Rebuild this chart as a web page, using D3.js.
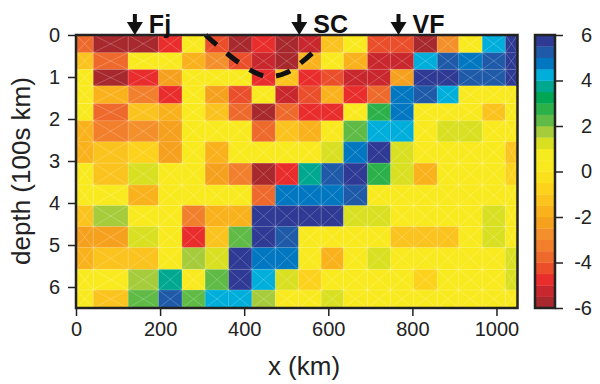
<!DOCTYPE html>
<html><head><meta charset="utf-8">
<script src="https://cdn.jsdelivr.net/npm/d3@7"></script>
<style>
html,body{margin:0;padding:0;background:#fff;}
svg{display:block;font-family:"Liberation Sans",Arial,Helvetica,sans-serif;}
</style></head>
<body><svg id="chart" width="600" height="384"></svg>
<script>
// ---- data ----
const xEdges = [0, 41, 124, 196, 252, 307, 363, 418, 474, 529, 583, 636, 693, 748, 803, 859, 910, 966, 1021, 1050]; // km
const depthEdges = [0, 0.42, 0.82, 1.21, 1.63, 2.04, 2.54, 3.05, 3.57, 4.06, 4.56, 5.06, 5.58, 6.07, 6.5]; // 100s km
const cellValues = [
  [-3.7,-5.7,-5.6,-4.8, 0.3,-4.2,-5.6,-4.7,-5.6,-5.3,-1.2, 0.3,-4.2,-4.2,-5.6,-2.8, 0.3, 4.2, 5.7],
  [-1.2,-3.6, 0.3, 0.3,-1.7,-2.7,-4.2,-5.2,-5.6,-1.7, 0.3,-1.7,-5.3,-5.3, 4.2, 5.2, 4.7, 5.2, 5.7],
  [ 0.3,-5.7,-4.8,-2.2, 0.3, 0.3, 0.3,-4.6,-1.2,-4.7,-4.2,-5.3,-5.4,-2.2, 5.7, 5.7, 5.2, 5.2, 5.7],
  [ 0.3,-1.7,-3.2,-4.6, 0.3,-2.2,-4.2, 0.3,-5.3,-4.2,-1.7,-4.7,-3.7, 4.7, 5.2, 4.2, 0.3, 0.3, 0.3],
  [ 0.3,-3.7,-1.2,-1.7, 0.3,-1.2,-4.0,-5.7,-3.7,-4.7,-4.7, 0.3, 2.8, 4.7, 0.3, 0.3, 0.3,-1.2, 0.3],
  [-1.7,-3.2,-2.6,-2.3, 0.3, 0.3, 0.3,-3.7,-1.2,-1.7, 0.3, 2.2, 4.2, 4.2, 0.3, 1.2, 1.2, 0.3, 0.3],
  [-1.7,-1.2,-0.7,-2.2, 0.3,-1.7, 0.3, 0.3, 0.3, 0.3, 1.2, 4.7, 5.7, 1.2, 0.3, 0.3, 0.3, 0.3,-1.2],
  [ 0.3,-1.2, 1.2, 0.3, 0.3,-2.2,-3.2,-5.6,-4.7, 3.7, 5.2, 5.7, 2.6, 1.2,-1.7, 0.3, 0.3, 0.3,-0.7],
  [ 0.3, 0.3,-1.7, 0.3, 0.3, 0.3, 0.3,-3.7, 4.7, 4.7, 4.7, 5.2, 0.3, 0.3, 0.3, 0.3, 0.3, 0.3, 0.3],
  [-1.4, 1.8, 0.3, 0.3,-3.2,-1.7,-1.7, 5.7, 5.7, 5.7, 5.7, 1.2, 1.2, 0.3, 0.3, 0.3, 0.3, 1.2, 0.3],
  [-2.2,-2.2, 1.2, 0.3,-4.7,-1.2, 2.2, 5.7, 5.2, 0.3, 0.3, 0.3, 0.3,-1.2,-1.2,-1.2, 0.3, 1.2, 0.3],
  [-1.7,-1.2,-1.2, 0.3, 1.8, 1.2, 5.7, 4.7, 4.7, 0.3,-1.7, 0.3, 1.2, 0.3, 0.3, 0.3, 0.3, 0.3, 1.2],
  [ 0.3, 0.3, 1.8, 3.7, 0.3, 2.2, 5.7, 4.2, 1.2,-0.7, 0.3, 0.3, 0.3, 0.3,-0.7, 0.3, 0.3, 0.3, 1.2],
  [ 0.3,-1.2, 2.2, 5.2, 2.2, 4.2, 4.2, 1.8, 0.3, 0.3, 1.2, 0.3, 0.3, 0.3, 0.3, 0.3, 0.3, 0.3, 0.3]
];
const palette = ['#a7292e','#c8282d','#e92d2c','#ea4e2b','#ee6a2c','#f17f2c','#f3902b','#f6a11e',
                 '#f9b21b','#fbc31e','#fcd21c','#fbe11d','#f9ea1f','#f5eb20','#d9e021','#a6cc3b',
                 '#5fba46','#2bb04a','#00a651','#00a88f','#00aedb','#0077c0','#1e5aa8','#2e3a93'];
const xTicks = [0, 200, 400, 600, 800, 1000];
const depthTicks = [0, 1, 2, 3, 4, 5, 6];
const colorTicks = [-6, -4, -2, 0, 2, 4, 6];
const siteNames = ['Fj', 'SC', 'VF'];
const siteX = [140, 531, 767];
const slabX = [308, 388, 450, 500, 570];
const slabDepth = [0.0, 0.66, 0.98, 0.9, 0.36];

// ---- layout ----
const svg = d3.select('#chart');
const x = d3.scaleLinear().domain([0, 1050]).range([76, 517.5]);
const y = d3.scaleLinear().domain([0, 6.5]).range([35, 308]);
const color = d3.scaleQuantize().domain([-6, 6]).range(palette);

const cells = [];
cellValues.forEach((row, r) => row.forEach((v, c) => cells.push({r, c, v})));

const gCells = svg.append('g');
gCells.selectAll('rect').data(cells).join('rect')
  .attr('x', d => x(xEdges[d.c]))
  .attr('y', d => y(depthEdges[d.r]))
  .attr('width', d => x(xEdges[d.c + 1]) - x(xEdges[d.c]) + 0.3)
  .attr('height', d => y(depthEdges[d.r + 1]) - y(depthEdges[d.r]) + 0.3)
  .attr('fill', d => color(d.v));

// mesh lines
const mesh = svg.append('g').attr('stroke', '#fff').attr('stroke-opacity', 0.3).attr('stroke-width', 0.7).attr('fill', 'none');
mesh.selectAll('path').data(cells).join('path')
  .attr('d', d => {
    const x0 = x(xEdges[d.c]), x1 = x(xEdges[d.c + 1]);
    const y0 = y(depthEdges[d.r]), y1 = y(depthEdges[d.r + 1]);
    return `M${x0},${y0}L${x1},${y1}M${x1},${y0}L${x0},${y1}M${x0},${y0}H${x1}V${y1}`;
  });

// slab dashed line
svg.append('path')
  .datum(slabX.map((v, i) => [v, slabDepth[i]]))
  .attr('d', d3.line().x(d => x(d[0])).y(d => y(d[1])).curve(d3.curveCatmullRom))
  .attr('fill', 'none').attr('stroke', '#111').attr('stroke-width', 5)
  .attr('stroke-dasharray', '15,13');

// frame
svg.append('rect').attr('x', 76).attr('y', 35).attr('width', 441.5).attr('height', 273)
  .attr('fill', 'none').attr('stroke', '#222').attr('stroke-width', 2.5);

// axes
const xAxis = svg.append('g').attr('transform', 'translate(0,308)')
  .call(d3.axisBottom(x).tickValues(xTicks).tickSize(8).tickPadding(6).tickFormat(d => String(d)));
const yAxis = svg.append('g').attr('transform', 'translate(76,0)')
  .call(d3.axisLeft(y).tickValues(depthTicks).tickSize(8).tickPadding(8).tickFormat(d => String(d)));
[xAxis, yAxis].forEach(g => {
  g.select('.domain').remove();
  g.selectAll('.tick line').attr('stroke', '#222').attr('stroke-width', 1.5);
  g.selectAll('.tick text').attr('font-size', 20).attr('fill', '#222').attr('font-family', null);
});

svg.append('text').attr('x', 304).attr('y', 375).attr('text-anchor', 'middle')
  .attr('font-size', 26).attr('fill', '#222').text('x (km)');
svg.append('text').attr('transform', 'translate(30,171) rotate(-90)').attr('text-anchor', 'middle')
  .attr('font-size', 26).attr('fill', '#222').text('depth (100s km)');

// colorbar
const yc = d3.scaleLinear().domain([-6, 6]).range([308, 35]);
const cb = svg.append('g');
cb.selectAll('rect').data(palette).join('rect')
  .attr('x', 535).attr('width', 20)
  .attr('y', (d, i) => yc(-6 + 0.5 * (i + 1)))
  .attr('height', (d, i) => yc(-6 + 0.5 * i) - yc(-6 + 0.5 * (i + 1)) + 0.3)
  .attr('fill', d => d);
cb.append('rect').attr('x', 535).attr('y', 35).attr('width', 20).attr('height', 273)
  .attr('fill', 'none').attr('stroke', '#222').attr('stroke-width', 2.5);
const cAxis = svg.append('g').attr('transform', 'translate(555,0)')
  .call(d3.axisRight(yc).tickValues(colorTicks).tickSize(8).tickFormat(d => String(d)));
cAxis.select('.domain').remove();
cAxis.selectAll('.tick line').attr('stroke', '#222').attr('stroke-width', 1.5);
cAxis.selectAll('.tick text').attr('font-size', 20).attr('fill', '#222')
  .attr('text-anchor', 'end').attr('x', 37).attr('font-family', null);

// site arrows
const sites = svg.append('g');
siteNames.forEach((name, i) => {
  const sx = x(siteX[i]);
  sites.append('rect').attr('x', sx - 2).attr('y', 14).attr('width', 4).attr('height', 10).attr('fill', '#111');
  sites.append('path').attr('d', `M${sx - 8},22L${sx + 8},22L${sx},35Z`).attr('fill', '#111');
  sites.append('text').attr('x', sx + 14).attr('y', 33).attr('font-size', 25).attr('font-weight', 'bold')
    .attr('fill', '#111').text(name);
});
</script></body></html>
